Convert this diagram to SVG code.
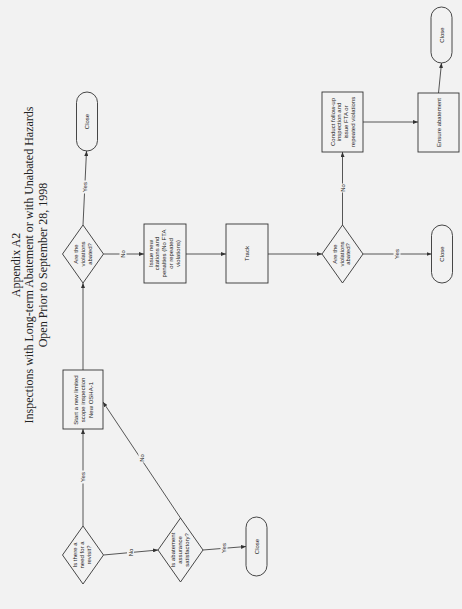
<svg xmlns="http://www.w3.org/2000/svg" width="462" height="609" viewBox="0 0 462 609">
<defs>
<marker id="ah" markerUnits="userSpaceOnUse" markerWidth="5" markerHeight="4" refX="5" refY="2" orient="auto">
<path d="M0,0 L5,2 L0,4 z" fill="#333"/>
</marker>
<style>
.bg{fill:#f2f2f2}
.title{font-family:"Liberation Serif","Times New Roman",serif;font-size:12px;fill:#222;text-anchor:middle}
.shape{fill:#f2f2f2;stroke:#333;stroke-width:0.9}
.t{font-family:"Liberation Sans",Arial,sans-serif;font-size:6px;fill:#222;text-anchor:middle}
.c{fill:none;stroke:#444;stroke-width:0.9;marker-end:url(#ah)}
.lblbg{fill:#f2f2f2}
</style>
</defs>
<rect class="bg" x="0" y="0" width="462" height="609"/>
<g id="title">
<text class="title" transform="translate(19.5,265) rotate(-90)">Appendix A2</text>
<text class="title" transform="translate(33,265) rotate(-90)">Inspections with Long-term Abatement or with Unabated Hazards</text>
<text class="title" transform="translate(46.5,265) rotate(-90)">Open Prior to September 28, 1998</text>
</g>
<g id="connectors">
<line class="c" x1="83" y1="526" x2="83" y2="429"/>
<line class="c" x1="103.5" y1="555" x2="158" y2="550"/>
<line class="c" x1="180.5" y1="518" x2="103" y2="402"/>
<line class="c" x1="203" y1="550" x2="246" y2="546.5"/>
<line class="c" x1="83" y1="370" x2="83" y2="283"/>
<line class="c" x1="83" y1="225" x2="86.5" y2="151"/>
<line class="c" x1="103.5" y1="254" x2="144" y2="254"/>
<line class="c" x1="186" y1="254" x2="226" y2="254"/>
<line class="c" x1="268" y1="254" x2="322" y2="254"/>
<line class="c" x1="363" y1="254" x2="431.5" y2="254"/>
<line class="c" x1="342.5" y1="225" x2="342.5" y2="152"/>
<line class="c" x1="363" y1="122" x2="418" y2="122"/>
<line class="c" x1="438.5" y1="93" x2="441.5" y2="63"/>
<g transform="translate(83,477) rotate(-90)"><rect class="lblbg" x="-6.5" y="-3.5" width="13" height="7"/><text class="t" y="2.1">Yes</text></g>
<g transform="translate(130.5,552.5) rotate(-90)"><rect class="lblbg" x="-4.5" y="-3.5" width="9" height="7"/><text class="t" y="2.1">No</text></g>
<g transform="translate(142,458) rotate(-90)"><rect class="lblbg" x="-4.5" y="-3.5" width="9" height="7"/><text class="t" y="2.1">No</text></g>
<g transform="translate(224,548) rotate(-90)"><rect class="lblbg" x="-6.5" y="-3.5" width="13" height="7"/><text class="t" y="2.1">Yes</text></g>
<g transform="translate(84.8,187) rotate(-90)"><rect class="lblbg" x="-6.5" y="-3.5" width="13" height="7"/><text class="t" y="2.1">Yes</text></g>
<g transform="translate(123,254) rotate(-90)"><rect class="lblbg" x="-4.5" y="-3.5" width="9" height="7"/><text class="t" y="2.1">No</text></g>
<g transform="translate(397,254) rotate(-90)"><rect class="lblbg" x="-6.5" y="-3.5" width="13" height="7"/><text class="t" y="2.1">Yes</text></g>
<g transform="translate(342.5,188) rotate(-90)"><rect class="lblbg" x="-4.5" y="-3.5" width="9" height="7"/><text class="t" y="2.1">No</text></g>
</g>
<g id="revisit">
<polygon class="shape" points="83,526 103.5,555 83,584 62.5,555"/>
<text class="t" transform="translate(82,555) rotate(-90)"><tspan x="0" y="-4.6">Is there a</tspan><tspan x="0" y="2.1">need for a</tspan><tspan x="0" y="8.8">revisit?</tspan></text>
</g>
<g id="assurance">
<polygon class="shape" points="180.5,518 203,550 180.5,582 158,550"/>
<text class="t" transform="translate(180,550) rotate(-90)"><tspan x="0" y="-4.6">Is abatement</tspan><tspan x="0" y="2.1">assurance</tspan><tspan x="0" y="8.8">satisfactory?</tspan></text>
</g>
<g id="close1">
<rect class="shape" x="246" y="517" width="21" height="59" rx="10.5"/>
<text class="t" transform="translate(256.5,546.5) rotate(-90)" y="2.1">Close</text>
</g>
<g id="start">
<rect class="shape" x="63" y="370" width="40" height="59"/>
<text class="t" transform="translate(83,400) rotate(-90)"><tspan x="0" y="-5.4">Start a new limited</tspan><tspan x="0" y="2.1">scope inspection</tspan><tspan x="0" y="9.6">New OSHA-1</tspan></text>
</g>
<g id="abated1">
<polygon class="shape" points="83,225 103.5,254 83,283 62.5,254"/>
<text class="t" transform="translate(83,254) rotate(-90)"><tspan x="0" y="-4.6">Are the</tspan><tspan x="0" y="2.1">violations</tspan><tspan x="0" y="8.8">abated?</tspan></text>
</g>
<g id="close2">
<rect class="shape" x="76.5" y="92" width="21" height="59" rx="10.5"/>
<text class="t" transform="translate(87,121.5) rotate(-90)" y="2.1">Close</text>
</g>
<g id="issue">
<rect class="shape" x="144" y="224" width="42" height="59"/>
<text class="t" transform="translate(164,253.5) rotate(-90)"><tspan x="0" y="-11.3">Issue new</tspan><tspan x="0" y="-4.6">citations and</tspan><tspan x="0" y="2.1">penalties (No FTA</tspan><tspan x="0" y="8.8">or repeated</tspan><tspan x="0" y="15.5">violations)</tspan></text>
</g>
<g id="track">
<rect class="shape" x="226" y="224" width="42" height="59"/>
<text class="t" transform="translate(247,253.5) rotate(-90)" y="2.1">Track</text>
</g>
<g id="abated2">
<polygon class="shape" points="342.5,225 363,254 342.5,283 322,254"/>
<text class="t" transform="translate(341.5,254) rotate(-90)"><tspan x="0" y="-4.6">Are the</tspan><tspan x="0" y="2.1">violations</tspan><tspan x="0" y="8.8">abated?</tspan></text>
</g>
<g id="close3">
<rect class="shape" x="431.5" y="225" width="21" height="58" rx="10.5"/>
<text class="t" transform="translate(442,254) rotate(-90)" y="2.1">Close</text>
</g>
<g id="followup">
<rect class="shape" x="322" y="92" width="41" height="60"/>
<text class="t" transform="translate(342.5,122) rotate(-90)"><tspan x="0" y="-8">Conduct follow-up</tspan><tspan x="0" y="-1.3">inspection and</tspan><tspan x="0" y="5.4">issue FTA or</tspan><tspan x="0" y="12.1">repeated violations</tspan></text>
</g>
<g id="ensure">
<rect class="shape" x="418" y="93" width="41" height="59"/>
<text class="t" transform="translate(438.5,122.5) rotate(-90)" y="2.1">Ensure abatement</text>
</g>
<g id="close4">
<rect class="shape" x="431" y="7" width="21" height="56" rx="10.5"/>
<text class="t" transform="translate(441.5,35) rotate(-90)" y="2.1">Close</text>
</g>
</svg>
